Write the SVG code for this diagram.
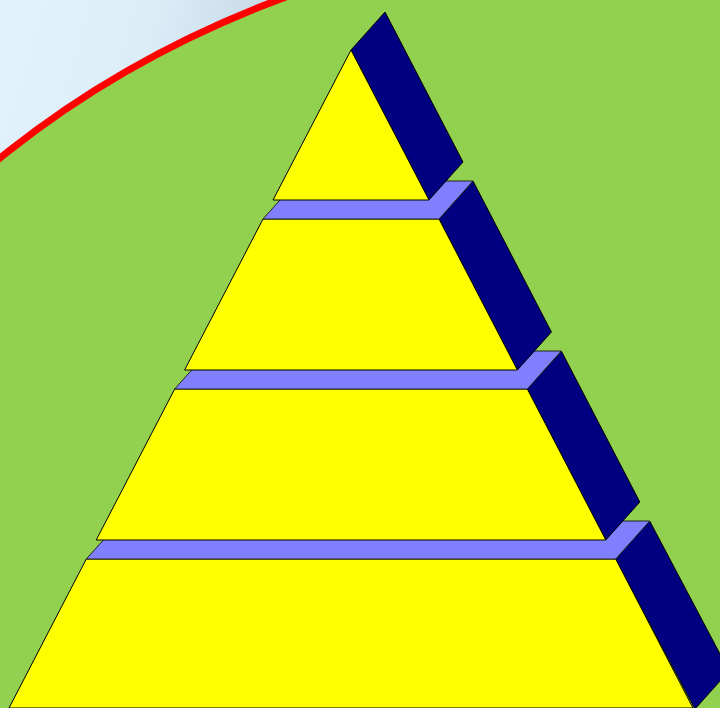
<svg xmlns="http://www.w3.org/2000/svg" width="720" height="708" viewBox="0 0 720 708">
<defs>
<linearGradient id="bg" x1="0" y1="0" x2="1" y2="0.3">
<stop offset="0" stop-color="#e2f3fd"/>
<stop offset="0.2" stop-color="#dcedf8"/>
<stop offset="0.33" stop-color="#c9dce8"/>
<stop offset="0.45" stop-color="#e0eef8"/>
<stop offset="1" stop-color="#e6f2fb"/>
</linearGradient>
<style>
.front{fill:#ffff00;stroke:#000;stroke-width:1;stroke-linejoin:miter}
.side{fill:#000080;stroke:#000;stroke-width:1}
.ledge{fill:#8080ff;stroke:#222;stroke-width:1}
</style>
</defs>
<rect width="720" height="708" fill="url(#bg)"/>
<ellipse cx="700" cy="700" rx="978" ry="776" fill="#92d050" stroke="#ff0000" stroke-width="7"/>
<g id="tier4">
<polygon class="side" points="615.7,559 649.7,521 729,671 695,709"/>
<polygon class="front" points="86.3,559 615.7,559 693,708 9,708"/>
</g>
<g id="ledge4">
<polygon class="ledge" points="86.3,559 615.7,559 649.7,521 120.3,521"/>
</g>
<g id="tier3">
<polygon class="side" points="527.3,389 561.3,351 639.8,502 605.8,540"/>
<polygon class="front" points="174.7,389 527.3,389 605.8,540 96.2,540"/>
</g>
<g id="ledge3">
<polygon class="ledge" points="174.7,389 527.3,389 561.3,351 208.7,351"/>
</g>
<g id="tier2">
<polygon class="side" points="439,219 473,181 551.4,332 517.4,370"/>
<polygon class="front" points="263,219 439,219 517.4,370 184.6,370"/>
</g>
<g id="ledge2">
<polygon class="ledge" points="263,219 439,219 473,181 297,181"/>
</g>
<g id="tier1">
<polygon class="side" points="351,50 385,12 463,162 429,200"/>
<polygon class="front" points="351,50 429,200 273,200"/>
</g>
</svg>
